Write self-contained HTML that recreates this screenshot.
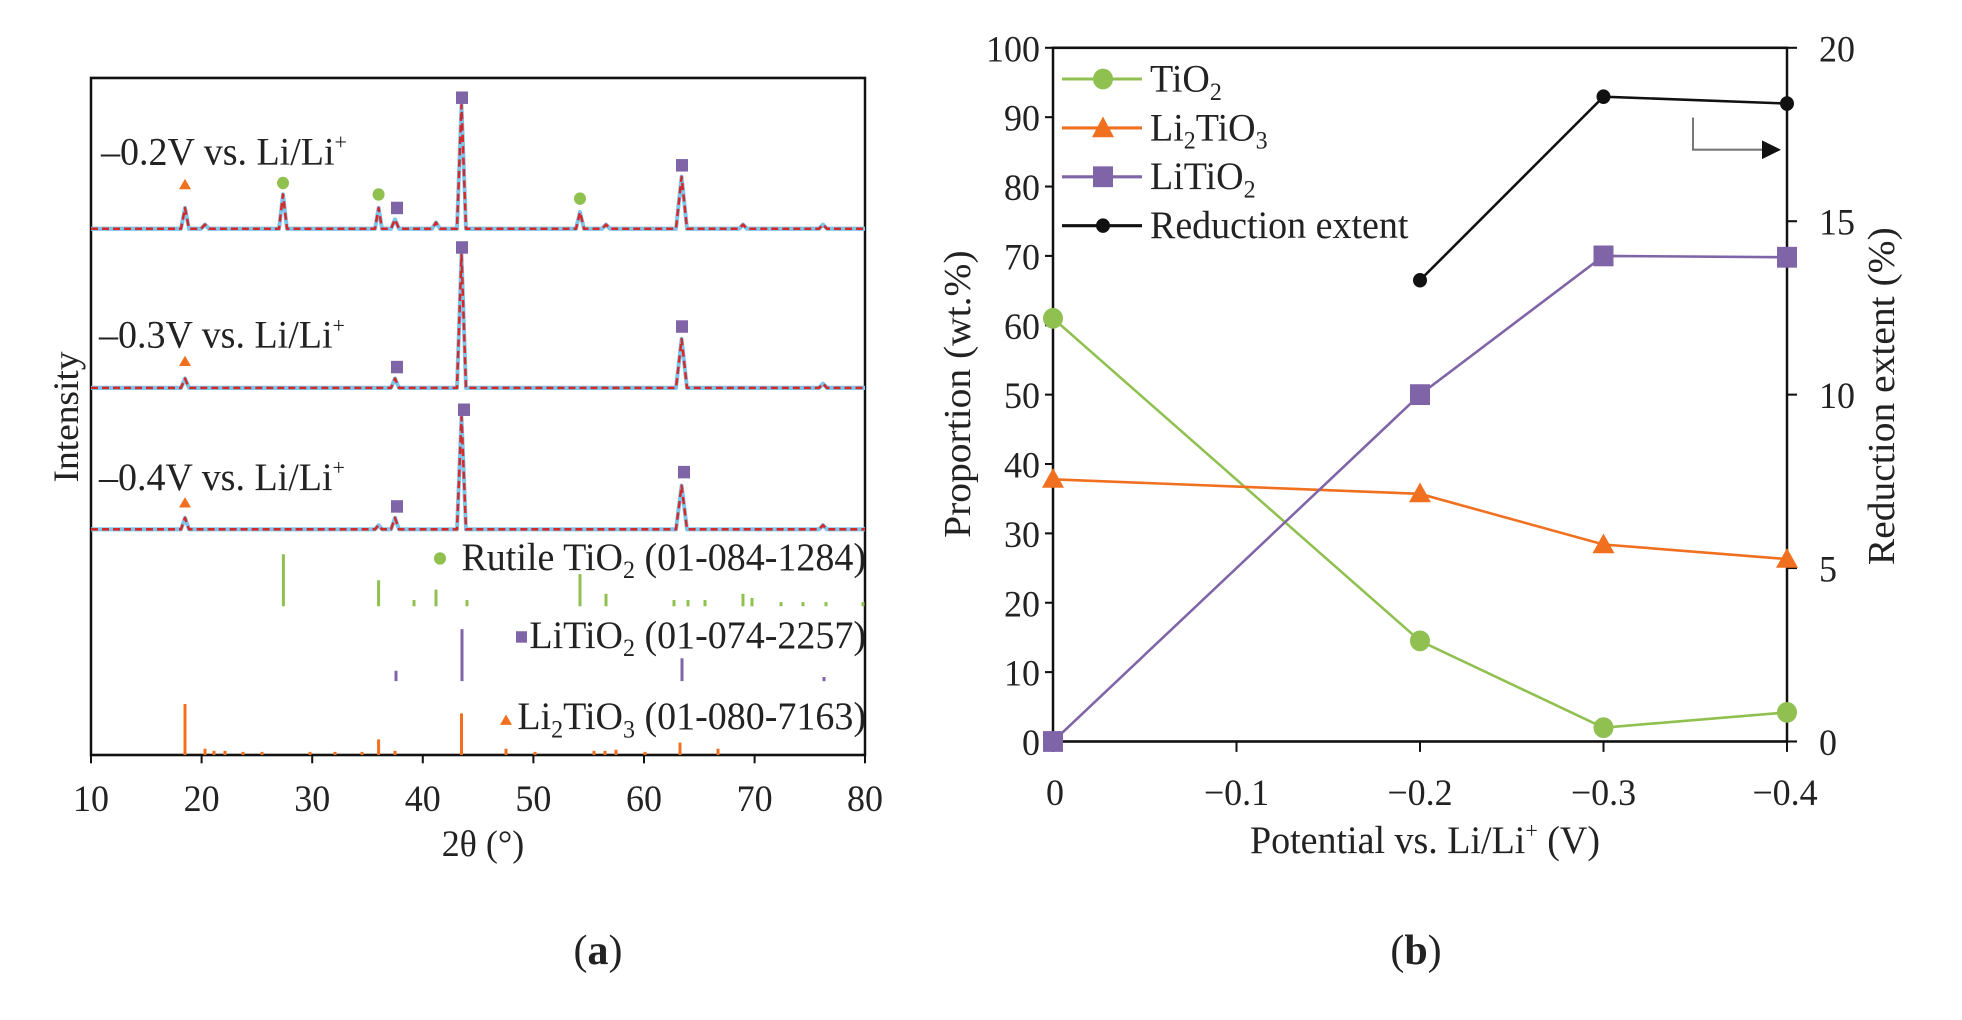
<!DOCTYPE html>
<html><head><meta charset="utf-8"><style>html,body{margin:0;padding:0;background:#fff}svg{display:block}</style></head><body>
<svg width="1962" height="1020" viewBox="0 0 1962 1020" xmlns="http://www.w3.org/2000/svg" font-family="Liberation Serif, serif" fill="#222">
<text x="598" y="964" font-size="42" text-anchor="middle">(<tspan font-weight="bold">a</tspan>)</text>
<text x="1416" y="964" font-size="42" text-anchor="middle">(<tspan font-weight="bold">b</tspan>)</text>
<g transform="matrix(1,0,0,1.04,0,1)">
<!-- Panel (a) -->
<rect x="91" y="74" width="774" height="651" fill="none" stroke="#111" stroke-width="2.5"/>
<g stroke="#111" stroke-width="2">
<line x1="91" y1="725" x2="91" y2="733"/><line x1="201.6" y1="725" x2="201.6" y2="733"/><line x1="312.2" y1="725" x2="312.2" y2="733"/><line x1="422.8" y1="725" x2="422.8" y2="733"/><line x1="533.4" y1="725" x2="533.4" y2="733"/><line x1="644" y1="725" x2="644" y2="733"/><line x1="754.6" y1="725" x2="754.6" y2="733"/><line x1="865" y1="725" x2="865" y2="733"/>
</g>
<g font-size="36" text-anchor="middle">
<text x="91" y="779">10</text><text x="201.6" y="779">20</text><text x="312.2" y="779">30</text><text x="422.8" y="779">40</text><text x="533.4" y="779">50</text><text x="644" y="779">60</text><text x="754.6" y="779">70</text><text x="865" y="779">80</text>
<text x="483" y="822">2θ (°)</text>
</g>
<text transform="translate(78,400) rotate(-90)" font-size="36" text-anchor="middle">Intensity</text>

<g fill="none" stroke-linejoin="round">
<path d="M91 219 L181 219 L185 199 L189 219 L201 219 L205 215 L209 219 L279 219 L283 186 L287 219 L375 219 L378.6 199 L382 219 L391 219 L395 210 L399 219 L432 219 L436 213 L440 219 L457 219 L461.5 100 L466 219 L576 219 L580 203 L584 219 L602 219 L606 215 L610 219 L676 219 L681.6 169 L687 219 L739 219 L743 215 L747 219 L819 219 L823 215 L827 219 L865 219" stroke="#7fc4ea" stroke-width="4"/>
<path d="M91 219 L181 219 L185 199 L189 219 L201 219 L205 215 L209 219 L279 219 L283 186 L287 219 L375 219 L378.6 199 L382 219 L391 219 L395 210 L399 219 L432 219 L436 213 L440 219 L457 219 L461.5 100 L466 219 L576 219 L580 203 L584 219 L602 219 L606 215 L610 219 L676 219 L681.6 169 L687 219 L739 219 L743 215 L747 219 L819 219 L823 215 L827 219 L865 219" stroke="#d42a2a" stroke-width="2.5" stroke-dasharray="7 4"/>
<path d="M91 372 L181 372 L185 363 L189 372 L391 372 L395 363 L399 372 L457 372 L461.5 244 L466 372 L676 372 L681.6 325 L687 372 L819 372 L823 368 L827 372 L865 372" stroke="#7fc4ea" stroke-width="4"/>
<path d="M91 372 L181 372 L185 363 L189 372 L391 372 L395 363 L399 372 L457 372 L461.5 244 L466 372 L676 372 L681.6 325 L687 372 L819 372 L823 368 L827 372 L865 372" stroke="#d42a2a" stroke-width="2.5" stroke-dasharray="7 4"/>
<path d="M91 508 L181 508 L185 497 L189 508 L375 508 L378.6 504 L382 508 L391 508 L395 497 L399 508 L457 508 L461.5 400 L466 508 L676 508 L681.6 466 L687 508 L819 508 L823 504 L827 508 L865 508" stroke="#7fc4ea" stroke-width="4"/>
<path d="M91 508 L181 508 L185 497 L189 508 L375 508 L378.6 504 L382 508 L391 508 L395 497 L399 508 L457 508 L461.5 400 L466 508 L676 508 L681.6 466 L687 508 L819 508 L823 504 L827 508 L865 508" stroke="#d42a2a" stroke-width="2.5" stroke-dasharray="7 4"/>
</g>
<g font-size="38">
<text x="101" y="157">–0.2V vs. Li/Li<tspan font-size="22" dy="-14">+</tspan></text>
<text x="99" y="333">–0.3V vs. Li/Li<tspan font-size="22" dy="-14">+</tspan></text>
<text x="99" y="470">–0.4V vs. Li/Li<tspan font-size="22" dy="-14">+</tspan></text>
</g>
<g fill="#f07020"><polygon points="185,171 191,181 179,181"/><polygon points="185,341 191,351 179,351"/><polygon points="185,477 191,487 179,487"/></g>
<g fill="#8fc050"><circle cx="283" cy="175" r="6"/><circle cx="378.6" cy="186" r="6"/><circle cx="580" cy="190" r="6"/></g>
<g fill="#8064a8"><rect x="391" y="193" width="12" height="12"/><rect x="456" y="87" width="12" height="12"/><rect x="676" y="152" width="12" height="12"/>
<rect x="391" y="346" width="12" height="12"/><rect x="456" y="231" width="12" height="12"/><rect x="676" y="307" width="12" height="12"/>
<rect x="391" y="480" width="12" height="12"/><rect x="458" y="387" width="12" height="12"/><rect x="678" y="447" width="12" height="12"/></g>
<g stroke="#8fc050" stroke-width="3">
<line x1="283.4" y1="532" x2="283.4" y2="582"/><line x1="378.6" y1="557" x2="378.6" y2="582"/><line x1="414" y1="576" x2="414" y2="582"/><line x1="436" y1="566" x2="436" y2="582"/><line x1="467" y1="576" x2="467" y2="582"/><line x1="580" y1="551" x2="580" y2="582"/><line x1="606" y1="570" x2="606" y2="582"/><line x1="674" y1="576" x2="674" y2="582"/><line x1="688" y1="576" x2="688" y2="582"/><line x1="705" y1="576" x2="705" y2="582"/><line x1="743" y1="570" x2="743" y2="582"/><line x1="752" y1="574" x2="752" y2="582"/><line x1="781" y1="578" x2="781" y2="582"/><line x1="803" y1="578" x2="803" y2="582"/><line x1="826" y1="578" x2="826" y2="582"/><line x1="863" y1="578" x2="863" y2="582"/>
</g>
<g stroke="#8064a8" stroke-width="3">
<line x1="462" y1="604" x2="462" y2="654"/><line x1="682" y1="632" x2="682" y2="654"/><line x1="396" y1="644" x2="396" y2="654"/><line x1="824" y1="650" x2="824" y2="654"/>
</g>
<g stroke="#f07020" stroke-width="3">
<line x1="185" y1="676" x2="185" y2="725"/><line x1="461.5" y1="685" x2="461.5" y2="725"/><line x1="378.6" y1="710" x2="378.6" y2="725"/><line x1="680" y1="713" x2="680" y2="725"/><line x1="718" y1="719" x2="718" y2="725"/><line x1="205" y1="719" x2="205" y2="725"/><line x1="214" y1="721" x2="214" y2="725"/><line x1="225" y1="721" x2="225" y2="725"/><line x1="243" y1="722" x2="243" y2="725"/><line x1="262" y1="722" x2="262" y2="725"/><line x1="310" y1="722" x2="310" y2="725"/><line x1="335" y1="722" x2="335" y2="725"/><line x1="362" y1="722" x2="362" y2="725"/><line x1="395" y1="721" x2="395" y2="725"/><line x1="506" y1="719" x2="506" y2="725"/><line x1="535" y1="722" x2="535" y2="725"/><line x1="594" y1="721" x2="594" y2="725"/><line x1="605" y1="721" x2="605" y2="725"/><line x1="616" y1="720" x2="616" y2="725"/><line x1="645" y1="722" x2="645" y2="725"/>
</g>
<g font-size="38" text-anchor="end">
<circle cx="440" cy="536" r="6" fill="#8fc050"/><text x="866" y="547">Rutile TiO<tspan font-size="24" dy="8">2</tspan><tspan dy="-8"> (01-084-1284)</tspan></text>
<rect x="516" y="606" width="11" height="11" fill="#8064a8"/><text x="866" y="622">LiTiO<tspan font-size="24" dy="8">2</tspan><tspan dy="-8"> (01-074-2257)</tspan></text>
<polygon points="506,686 512,696 500,696" fill="#f07020"/><text x="866" y="700">Li<tspan font-size="24" dy="8">2</tspan><tspan dy="-8">TiO</tspan><tspan font-size="24" dy="8">3</tspan><tspan dy="-8"> (01-080-7163)</tspan></text>
</g>

<!-- Panel (b) -->
<rect x="1053" y="45" width="734" height="667" fill="none" stroke="#111" stroke-width="2.5"/>
<g stroke="#111" stroke-width="2">
<line x1="1045" y1="45" x2="1053" y2="45"/><line x1="1045" y1="111.7" x2="1053" y2="111.7"/><line x1="1045" y1="178.4" x2="1053" y2="178.4"/><line x1="1045" y1="245.1" x2="1053" y2="245.1"/><line x1="1045" y1="311.8" x2="1053" y2="311.8"/><line x1="1045" y1="378.5" x2="1053" y2="378.5"/><line x1="1045" y1="445.2" x2="1053" y2="445.2"/><line x1="1045" y1="511.9" x2="1053" y2="511.9"/><line x1="1045" y1="578.6" x2="1053" y2="578.6"/><line x1="1045" y1="645.3" x2="1053" y2="645.3"/><line x1="1045" y1="712" x2="1053" y2="712"/>
<line x1="1787" y1="45" x2="1797" y2="45"/><line x1="1787" y1="211.75" x2="1797" y2="211.75"/><line x1="1787" y1="378.5" x2="1797" y2="378.5"/><line x1="1787" y1="545.25" x2="1797" y2="545.25"/><line x1="1787" y1="712" x2="1797" y2="712"/>
<line x1="1053" y1="712" x2="1053" y2="722"/><line x1="1236.5" y1="712" x2="1236.5" y2="722"/><line x1="1420" y1="712" x2="1420" y2="722"/><line x1="1603.5" y1="712" x2="1603.5" y2="722"/><line x1="1787" y1="712" x2="1787" y2="722"/>
</g>
<g font-size="36" text-anchor="end">
<text x="1040" y="58">100</text><text x="1040" y="124.7">90</text><text x="1040" y="191.4">80</text><text x="1040" y="258.1">70</text><text x="1040" y="324.8">60</text><text x="1040" y="391.5">50</text><text x="1040" y="458.2">40</text><text x="1040" y="524.9">30</text><text x="1040" y="591.6">20</text><text x="1040" y="658.3">10</text><text x="1040" y="725">0</text>
</g>
<g font-size="36">
<text x="1819" y="58">20</text><text x="1819" y="224.7">15</text><text x="1819" y="391.5">10</text><text x="1819" y="558.2">5</text><text x="1819" y="725">0</text>
</g>
<g font-size="36" text-anchor="middle">
<text x="1055" y="773">0</text><text x="1236.5" y="773">−0.1</text><text x="1420" y="773">−0.2</text><text x="1603.5" y="773">−0.3</text><text x="1785" y="773">−0.4</text>
<text x="1425" y="819" font-size="38">Potential vs. Li/Li<tspan font-size="22" dy="-14">+</tspan><tspan dy="14"> (V)</tspan></text>
</g>
<text transform="translate(970,378) rotate(-90)" font-size="38" text-anchor="middle">Proportion (wt.%)</text>
<text transform="translate(1894,380) rotate(-90)" font-size="38" text-anchor="middle">Reduction extent (%)</text>

<polyline points="1053,305.1 1420,615.3 1603.5,698.7 1787,684" fill="none" stroke="#8fc050" stroke-width="2.5"/>
<polyline points="1053,459.9 1420,473.9 1603.5,522.6 1787,536.6" fill="none" stroke="#f07020" stroke-width="2.5"/>
<polyline points="1053,712 1420,378.5 1603.5,245.1 1787,246.4" fill="none" stroke="#8064a8" stroke-width="2.5"/>
<polyline points="1420,268.5 1603.5,92 1787,98.6" fill="none" stroke="#111" stroke-width="2.5"/>
<g fill="#8fc050"><circle cx="1053" cy="305.1" r="10"/><circle cx="1420" cy="615.3" r="10"/><circle cx="1603.5" cy="698.7" r="10"/><circle cx="1787" cy="684" r="10"/></g>
<g fill="#f07020"><polygon points="1053,449 1064,468 1042,468"/><polygon points="1420,463 1431,482 1409,482"/><polygon points="1603.5,512 1614.5,531 1592.5,531"/><polygon points="1787,526 1798,545 1776,545"/></g>
<g fill="#8064a8"><rect x="1043" y="702" width="20" height="20"/><rect x="1410" y="368.5" width="20" height="20"/><rect x="1593.5" y="235.1" width="20" height="20"/><rect x="1777" y="236.4" width="20" height="20"/></g>
<g fill="#111"><circle cx="1420" cy="268.5" r="7"/><circle cx="1603.5" cy="92" r="7"/><circle cx="1787" cy="98.6" r="7"/></g>
<polyline points="1693,112 1693,143 1766,143" fill="none" stroke="#777" stroke-width="2"/>
<polygon points="1762,134 1781,143 1762,152" fill="#111"/>
<g stroke-width="3">
<line x1="1062" y1="75" x2="1142" y2="75" stroke="#8fc050"/><circle cx="1103" cy="75" r="10" fill="#8fc050"/>
<line x1="1062" y1="122" x2="1142" y2="122" stroke="#f07020"/><polygon points="1103,111 1114,131 1092,131" fill="#f07020"/>
<line x1="1062" y1="169" x2="1142" y2="169" stroke="#8064a8"/><rect x="1093" y="159" width="20" height="20" fill="#8064a8"/>
<line x1="1062" y1="216" x2="1142" y2="216" stroke="#111"/><circle cx="1103" cy="216" r="7" fill="#111"/>
</g>
<g font-size="38">
<text x="1150" y="87">TiO<tspan font-size="24" dy="8">2</tspan></text>
<text x="1150" y="134">Li<tspan font-size="24" dy="8">2</tspan><tspan dy="-8">TiO</tspan><tspan font-size="24" dy="8">3</tspan></text>
<text x="1150" y="181">LiTiO<tspan font-size="24" dy="8">2</tspan></text>
<text x="1150" y="228">Reduction extent</text>
</g>
</g>
</svg>
</body></html>
